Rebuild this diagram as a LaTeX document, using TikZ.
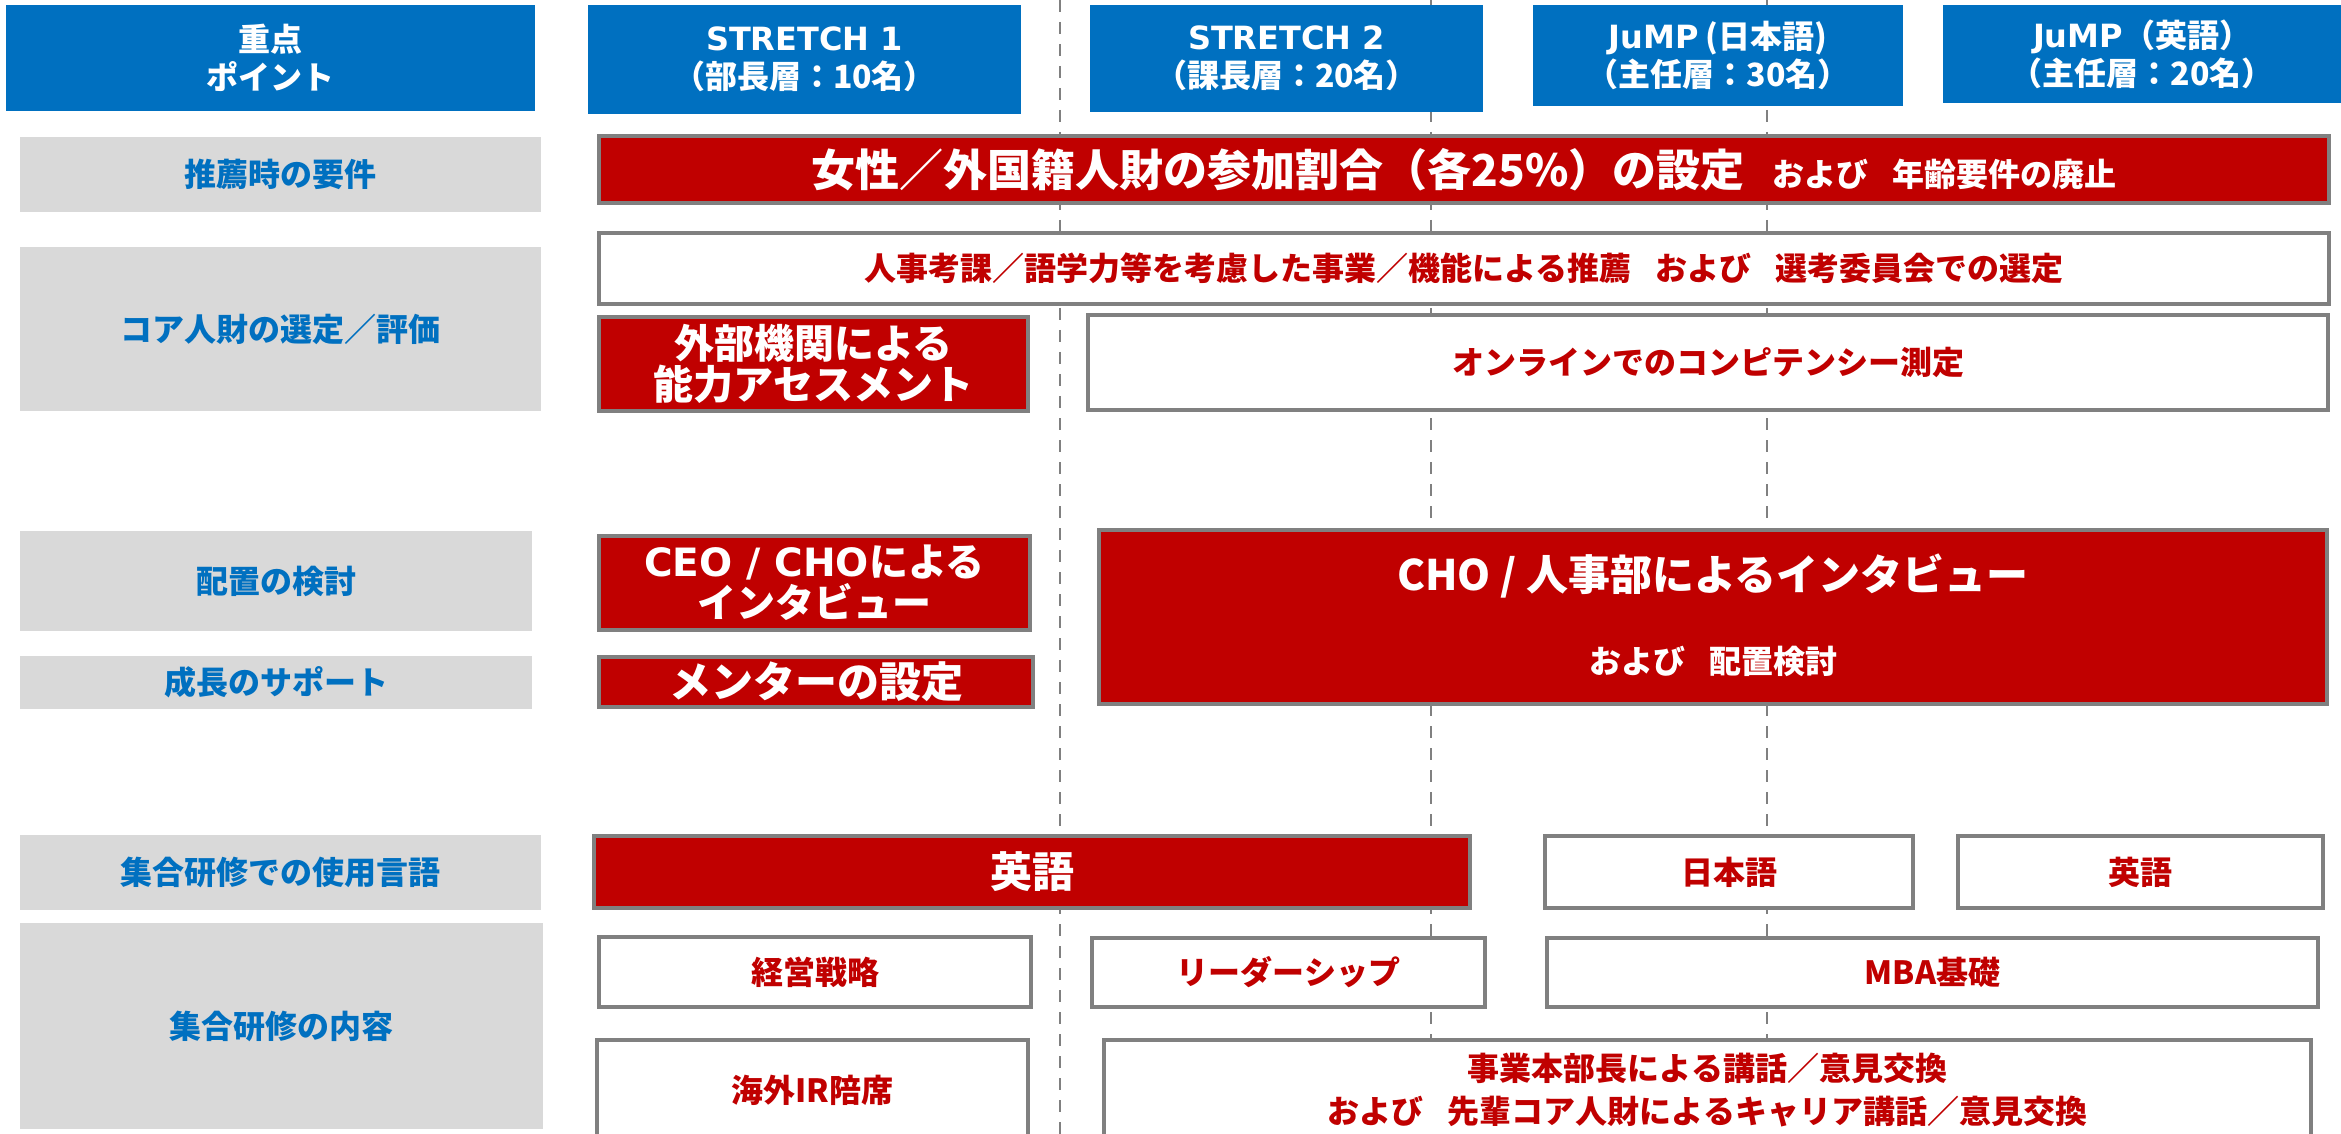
\documentclass[tikz,border=0pt]{standalone}
\usepackage{fontspec}
\setmainfont{Noto Sans CJK JP}
\newfontfamily\latfont{DejaVu Sans}
\usepackage{tikz}
\definecolor{hdblue}{HTML}{0070C0}
\definecolor{barred}{HTML}{C00000}
\definecolor{lblgray}{HTML}{D9D9D9}
\definecolor{rimgray}{HTML}{808080}
\def\hdfs{\fontsize{16}{19}\selectfont}
\def\lblfs{\fontsize{16}{21.5}\selectfont}
\def\bigfs{\fontsize{21}{21}\selectfont}
\def\topfs{\fontsize{22}{22}\selectfont}

\begin{document}
\begin{tikzpicture}[x=0.5pt,y=-0.5pt,% one unit = one pixel of the reference
					every node/.style={
						align=center,		% so that "\\" breaks the line
						inner sep=0pt		% boxes keep their given size
						},
					head/.style={rectangle,fill=hdblue,text=white,font=\bfseries\hdfs},
					lbl/.style={rectangle,fill=lblgray,text=hdblue,font=\bfseries\lblfs},
					redbox/.style={rectangle,draw=rimgray,line width=2pt,fill=barred,text=white,font=\bfseries\bigfs},
					whitebox/.style={rectangle,draw=rimgray,line width=2pt,fill=white,text=barred,font=\bfseries\lblfs},
					guide/.style={draw=rimgray,line width=1pt,dash pattern=on 6pt off 5pt}
					]
\useasboundingbox (0,0) rectangle (2341,1134);
% column guides behind the boxes
\draw[guide] (1060,0) -- (1060,1134);
\draw[guide] (1431,0) -- (1431,1134);
\draw[guide] (1767,0) -- (1767,1134);
% header row
\node[head,minimum width=264.5pt,minimum height=53pt](H0) at (270.5,58){重点\\ポイント};
\node[head,minimum width=216.5pt,minimum height=54.5pt](H1) at (804.5,59.5){{\latfont STRETCH 1}\\（部長層：10名）};
\node[head,minimum width=196.5pt,minimum height=53.5pt](H2) at (1286.5,58.5){{\latfont STRETCH 2}\\（課長層：20名）};
\node[head,minimum width=185pt,minimum height=50.5pt](H3) at (1718,55.5){{\latfont JuMP} (日本語)\\（主任層：30名）};
\node[head,minimum width=199pt,minimum height=49pt](H4) at (2142,54){{\latfont JuMP}（英語）\\（主任層：20名）};
% row labels
\node[lbl,minimum width=260.5pt,minimum height=37.5pt](L1) at (280.5,174.5){推薦時の要件};
\node[lbl,minimum width=260.5pt,minimum height=82pt](L2) at (280.5,329){コア人財の選定／評価};
\node[lbl,minimum width=256pt,minimum height=50pt](L3) at (276,581){配置の検討};
\node[lbl,minimum width=256pt,minimum height=26.5pt](L4) at (276,682.5){成長のサポート};
\node[lbl,minimum width=260.5pt,minimum height=37.5pt](L5) at (280.5,872.5){集合研修での使用言語};
\node[lbl,minimum width=261.5pt,minimum height=103pt](L6) at (281.5,1026){集合研修の内容};
% recommendation and selection
\node[redbox,font=\bfseries\topfs,minimum width=865pt,minimum height=33.5pt](R1) at (1464,169.5){女性／外国籍人財の参加割合（各25\%）の設定\hspace{14pt}{\lblfs および\hspace{12pt}年齢要件の廃止}};
\node[whitebox,minimum width=865pt,minimum height=35.5pt](R2) at (1464,268.5){人事考課／語学力等を考慮した事業／機能による推薦\hspace{12pt}および\hspace{12pt}選考委員会での選定};
\node[redbox,font=\bfseries\fontsize{20}{20.5}\selectfont,minimum width=214.5pt,minimum height=47pt](R3) at (813.5,364){外部機関による\\能力アセスメント};
\node[whitebox,minimum width=620pt,minimum height=47.5pt](R4) at (1708,362.5){オンラインでのコンピテンシー測定};
% placement and support
\node[redbox,font=\bfseries\fontsize{19.5}{20.5}\selectfont,minimum width=215.5pt,minimum height=47pt](R5) at (814.5,583){{\latfont CEO\hspace{7pt}/\hspace{7pt}CHO}による\\インタビュー};
\node[redbox,minimum width=217pt,minimum height=25pt](R6) at (816,682){メンターの設定};
\node[redbox,minimum width=614pt,minimum height=87pt](R7) at (1713,617){};
\node[text=white,font=\bfseries\bigfs](R7a) at (1713,576){CHO / 人事部によるインタビュー};
\node[text=white,font=\bfseries\lblfs](R7b) at (1713,661){および\hspace{12pt}配置検討};
% training language
\node[redbox,minimum width=438pt,minimum height=36pt](R8) at (1032,872){英語};
\node[whitebox,minimum width=184pt,minimum height=36pt](R9) at (1729,872){日本語};
\node[whitebox,minimum width=182.5pt,minimum height=36pt](R10) at (2140.5,872){英語};
% training content
\node[whitebox,minimum width=216pt,minimum height=35pt](R11) at (815,972){経営戦略};
\node[whitebox,minimum width=196.5pt,minimum height=34.5pt](R12) at (1288.5,972.5){リーダーシップ};
\node[whitebox,minimum width=385.5pt,minimum height=34.5pt](R13) at (1932.5,972.5){MBA基礎};
\node[whitebox,minimum width=215.5pt,minimum height=50pt](R14) at (812.5,1090){海外IR陪席};
\node[whitebox,minimum width=603.5pt,minimum height=50pt](R15) at (1707.5,1090){事業本部長による講話／意見交換\\および\hspace{12pt}先輩コア人財によるキャリア講話／意見交換};
\end{tikzpicture}
\end{document}
